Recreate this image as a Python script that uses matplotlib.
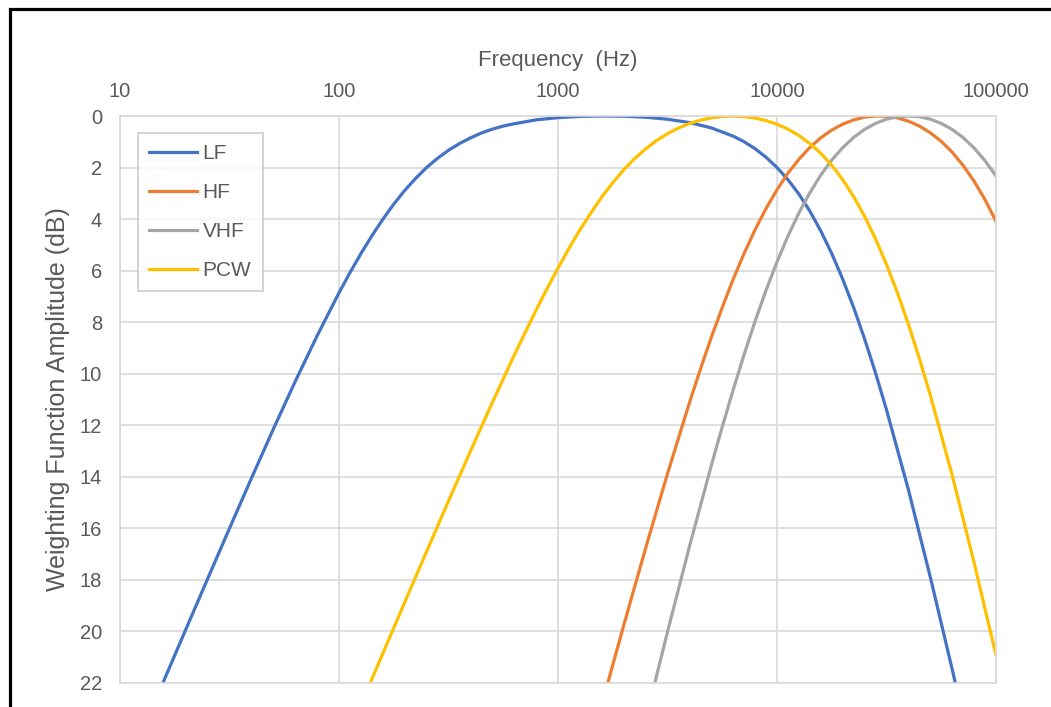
import matplotlib.pyplot as plt
from matplotlib.patches import Rectangle

# weighting function amplitude (dB)
lf_freq = [15, 20, 25.12, 31.62, 39.81, 50.12, 63.1, 79.43, 100, 112.2, 125.9, 141.25,
           158.5, 177.83, 199.5, 223.87, 251.2, 281.84, 316.2, 354.81, 398.1, 446.68,
           501.2, 562.34, 631, 794.3, 1000, 1259, 1585, 1995, 2512, 3162, 3981, 5012,
           6310, 7079.5, 7943, 8912.5, 10000, 11220, 12589, 14125, 15849, 17783, 19953,
           22387, 25119, 28184, 31623, 39811, 50119, 63096, 70000]
lf_amp = [22.39, 19.91, 17.96, 16.00, 14.06, 12.15, 10.30, 8.53, 6.86, 6.08, 5.34, 4.65,
          4.01, 3.42, 2.89, 2.42, 2.00, 1.64, 1.33, 1.07, 0.85, 0.66,
          0.51, 0.39, 0.30, 0.15, 0.064, 0.016, 0.0, 0.009, 0.048, 0.125, 0.254, 0.461,
          0.783, 1.00, 1.27, 1.60, 2.00, 2.47, 3.03, 3.69, 4.46, 5.34, 6.33,
          7.43, 8.65, 9.97, 11.40, 14.50, 17.89, 21.47, 23.14]

hf_freq = [1585, 1995, 2512, 3162, 3981, 4466.8, 5012, 5623.4, 6310, 7079.5, 7943,
           8912.5, 10000, 11220, 12589, 14125, 15849, 17783, 19953, 22387, 25119, 28184,
           31623, 35481, 39811, 44668, 50119, 56234, 63096, 70795, 79433, 89125, 100000]
hf_amp = [22.84, 19.77, 16.77, 13.88, 11.13, 9.83, 8.59, 7.43, 6.33, 5.33, 4.41,
          3.59, 2.86, 2.22, 1.68, 1.22, 0.845, 0.546, 0.316, 0.151, 0.046, 0.0,
          0.008, 0.075, 0.201, 0.39, 0.650, 0.985, 1.405, 1.92, 2.53, 3.25, 4.085]

vhf_freq = [2512, 3162, 3981, 5012, 5623.4, 6310, 7079.5, 7943, 8912.5, 10000, 11220,
            12589, 14125, 15849, 17783, 19953, 22387, 25119, 28184, 31623, 35481, 39811,
            44668, 50119, 56234, 63096, 70795, 79433, 89125, 100000]
vhf_amp = [23.43, 20.02, 16.71, 13.56, 12.06, 10.62, 9.25, 7.96, 6.76, 5.66, 4.66,
           3.76, 2.98, 2.29, 1.71, 1.23, 0.83, 0.52, 0.287, 0.124, 0.028, 0.0,
           0.027, 0.123, 0.287, 0.524, 0.84, 1.24, 1.735, 2.33]

pcw_freq = [125.9, 158.5, 199.5, 251.2, 316.2, 398.1, 501.2, 631, 794.3, 891.25, 1000,
            1122, 1259, 1412.5, 1585, 1778.3, 1995, 2238.7, 2512, 2818.4, 3162, 3548.1,
            3981, 4466.8, 5012, 5623.4, 6310, 7079.5, 7943, 8912.5, 10000, 11220, 12589,
            14125, 15849, 17783, 19953, 22387, 25119, 28184, 31623, 35481, 39811, 44668,
            50119, 63096, 79433, 100000]
pcw_amp = [22.84, 20.86, 18.87, 16.90, 14.94, 13.01, 11.12, 9.28, 7.53, 6.70, 5.90,
           5.14, 4.42, 3.76, 3.14, 2.59, 2.09, 1.65, 1.28, 0.95, 0.685, 0.466,
           0.293, 0.163, 0.072, 0.019, 0.003, 0.023, 0.080, 0.178, 0.319, 0.51, 0.757,
           1.07, 1.45, 1.91, 2.47, 3.13, 3.89, 4.77, 5.76, 6.86, 8.08, 9.41,
           10.83, 13.94, 17.33, 20.92]

x_ticks = [10, 100, 1000, 10000, 100000]
y_ticks = list(range(0, 24, 2))

plt.rcParams['font.family'] = ['Liberation Sans', 'DejaVu Sans']
text_col = '#595959'
grid_col = '#D9D9D9'

fig = plt.figure(figsize=(10.51, 7.07), dpi=100)
ax = fig.add_axes([120 / 1051, 1 - 683 / 707, 876 / 1051, 567 / 707])

ax.plot(lf_freq, lf_amp, color='#4472C4', lw=2.3, label='LF')
ax.plot(hf_freq, hf_amp, color='#ED7D31', lw=2.3, label='HF')
ax.plot(vhf_freq, vhf_amp, color='#A5A5A5', lw=2.3, label='VHF')
ax.plot(pcw_freq, pcw_amp, color='#FFC000', lw=2.3, label='PCW')

ax.set_xscale('log')
ax.set_xlim(10, 100000)
ax.set_ylim(22, 0)
ax.xaxis.tick_top()
ax.xaxis.set_label_position('top')
ax.set_xticks(x_ticks)
ax.set_xticklabels([str(v) for v in x_ticks])
ax.minorticks_off()
ax.set_yticks(y_ticks)
ax.tick_params(axis='both', length=0, labelsize=14.5, labelcolor=text_col)
ax.tick_params(axis='x', pad=11)
ax.tick_params(axis='y', pad=13)
ax.grid(True, color=grid_col, lw=1.2)
ax.set_axisbelow(True)
for s in ax.spines.values():
    s.set_color(grid_col)
    s.set_linewidth(1.2)

ax.set_xlabel('Frequency  (Hz)', fontsize=16, color=text_col, labelpad=11)
ax.set_ylabel('Weighting Function Amplitude (dB)', fontsize=18, color=text_col, labelpad=7)

leg = ax.legend(loc='upper left', bbox_to_anchor=(18 / 876, 1 - 17 / 567), fontsize=15,
                frameon=True, fancybox=False, handlelength=2.3, handletextpad=0.25,
                labelspacing=0.95, borderpad=0.55, borderaxespad=0, labelcolor=text_col)
leg.get_frame().set_edgecolor('#BFBFBF')
leg.get_frame().set_linewidth(1.2)

# black frame round the picture
fig.patches.append(Rectangle((9.5 / 1051, -0.2), 1.3, 1 - 9.5 / 707 + 0.2,
                             transform=fig.transFigure, fill=False,
                             edgecolor='black', lw=2.3))

fig.savefig('out.png', dpi=100)
